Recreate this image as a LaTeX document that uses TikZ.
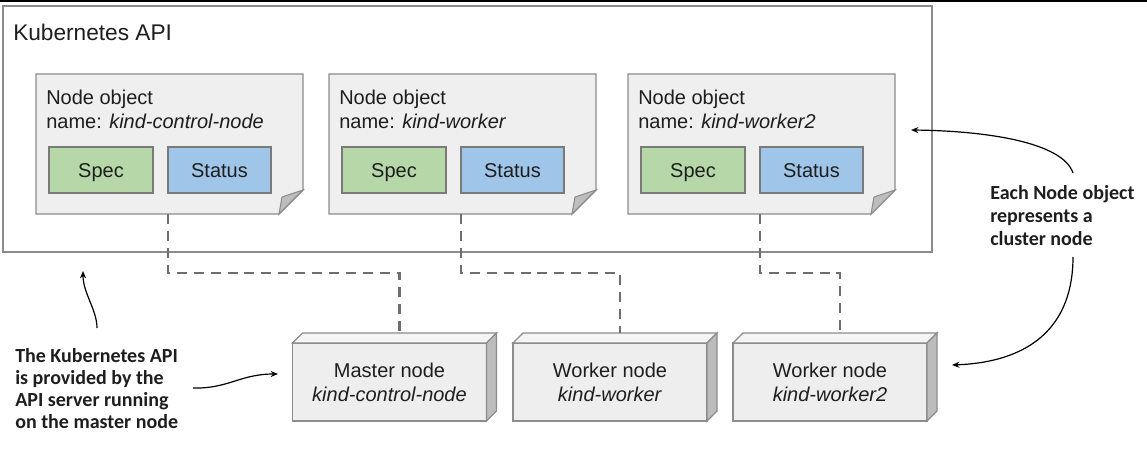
\documentclass[tikz,border=0pt]{standalone}
\usepackage{fontspec}
\setmainfont{Liberation Sans}
\newfontfamily\annfont{Carlito}
\usetikzlibrary{arrows.meta,calc}
\definecolor{boxline}{HTML}{8C8C8C}
\definecolor{objfill}{HTML}{EFEFEF}
\definecolor{foldfill}{HTML}{BDBDBD}
\definecolor{specgreen}{HTML}{B6D7A8}
\definecolor{statusblue}{HTML}{9FC5E8}
\definecolor{fieldline}{HTML}{7A7A7A}
\definecolor{connline}{HTML}{6E6E6E}
\definecolor{hostfront}{HTML}{EEEEEE}
\definecolor{hosttop}{HTML}{F4F4F4}
\definecolor{hostside}{HTML}{BCBCBC}
\definecolor{txt}{HTML}{1E1E1E}
\begin{document}
\begin{tikzpicture}[x=0.75pt,y=-0.75pt,
  outerbox/.style={rectangle, draw=boxline, line width=1pt, fill=white, minimum width=696.75pt, minimum height=184.5pt, inner sep=0pt, outer sep=0pt},
  objbox/.style={rectangle, minimum width=200.25pt, minimum height=105pt, inner sep=0pt, outer sep=0pt},
  objline/.style={draw=boxline, line width=1pt, fill=objfill, line join=miter},
  foldline/.style={draw=boxline, line width=0.8pt, fill=foldfill},
  objtext/.style={anchor=base west, inner sep=0pt, text=txt, font=\fontsize{15}{18}\selectfont},
  fieldbox/.style={rectangle, draw=fieldline, line width=1pt, minimum height=34.5pt, inner sep=0pt, outer sep=0pt, text height=10.7pt, text depth=0pt, text=txt, font=\fontsize{15}{18}\selectfont},
  specbox/.style={fieldbox, fill=specgreen, minimum width=78pt},
  statusbox/.style={fieldbox, fill=statusblue, minimum width=77.25pt},
  hostbox/.style={rectangle, draw=boxline, line width=1pt, fill=hostfront, minimum width=145.5pt, minimum height=58.5pt, inner sep=0pt, outer sep=0pt, align=center, text=txt, font=\fontsize{15}{18}\selectfont},
  hostface/.style={draw=boxline, line width=1pt, line join=miter},
  conn/.style={draw=connline, line width=1.9pt, dash pattern=on 7.5pt off 5.2pt},
  anntext/.style={anchor=base west, inner sep=0pt, align=left, text=txt, font=\annfont\bfseries\fontsize{15}{16.4}\selectfont},
  annarrow/.style={draw=black, line width=0.9pt, -{Stealth[length=5.5pt,width=4.5pt]}}
]
\useasboundingbox (0,0) rectangle (1147,452);
% top rule
\coordinate (tl) at (0,1);
\coordinate (tr) at (1147,1);
\draw[black, line width=1.1pt] (tl) -- (tr);

% outer Kubernetes API box
\node[outerbox] (api) at (467.5,129) {};
\node[anchor=base west, inner sep=0pt, text=txt, font=\fontsize{17}{20}\selectfont] (apititle) at (13,40.5) {Kubernetes API};

% node objects
\foreach \i/\l/\nm in {1/36/kind-control-node, 2/329/kind-worker, 3/628/kind-worker2}{
  \node[objbox] (obj\i) at (\l+133.5,144) {};
  \draw[objline] (obj\i.north west) -- (obj\i.north east) -- ([yshift=18pt]obj\i.south east) -- ([xshift=-18pt]obj\i.south east) -- (obj\i.south west) -- cycle;
  \draw[foldline] ([yshift=18pt]obj\i.south east) -- ([xshift=-18pt]obj\i.south east) -- ([shift={(-21,-17)}]obj\i.south east) -- cycle;
  \node[objtext] (ta\i) at (\l+10,105) {Node object};
  \node[objtext] (tb\i) at (\l+10,129) {name: \textit{\nm}};
  \node[specbox] (sp\i) at (\l+65,170) {Spec};
  \node[statusbox] (st\i) at (\l+183.5,170) {Status};
}

% cluster nodes (3D boxes)
\node[hostbox] (h1) at (389.5,382) {Master node\\\textit{kind-control-node}};
\node[hostbox] (h2) at (610,382) {Worker node\\\textit{kind-worker}};
\node[hostbox] (h3) at (830,382) {Worker node\\\textit{kind-worker2}};
\foreach \i in {1,2,3}{
  \draw[hostface, fill=hosttop] (h\i.north west) -- ([shift={(10,-10)}]h\i.north west) -- ([shift={(10,-10)}]h\i.north east) -- (h\i.north east) -- cycle;
  \draw[hostface, fill=hostside] (h\i.north east) -- ([shift={(10,-10)}]h\i.north east) -- ([shift={(10,-10)}]h\i.south east) -- (h\i.south east) -- cycle;
}

% dashed connectors
\foreach \i in {1,2,3}{
  \draw[conn] (st\i.west |- obj\i.south) -- ++(0,59) -| ([shift={(10,-10)}]h\i.north);
}

% annotations (base = last line)
\node[anntext] (annl) at (15,428.5) {The Kubernetes API\\is provided by the\\API server running\\on the master node};
\node[anntext, font=\annfont\bfseries\fontsize{15}{17.2}\selectfont] (annr) at (990,245.5) {Each Node object\\represents a\\cluster node};

\coordinate (a1s) at (97,328);
\coordinate (a1e) at (83,271);
\coordinate (a2s) at (193,388);
\coordinate (a2e) at (278,374);
\coordinate (a3s) at (1073,173);
\coordinate (a3e) at (911,130);
\coordinate (a4s) at (1073,257);
\coordinate (a4e) at (952,365);
\draw[annarrow] (a1s) .. controls (97,310) and (83,293) .. (a1e);
\draw[annarrow] (a2s) .. controls (228,389) and (240,374) .. (a2e);
\draw[annarrow] (a3s) .. controls (1063,143) and (990,131) .. (a3e);
\draw[annarrow] (a4s) .. controls (1073,325) and (1032,362) .. (a4e);
\end{tikzpicture}
\end{document}
